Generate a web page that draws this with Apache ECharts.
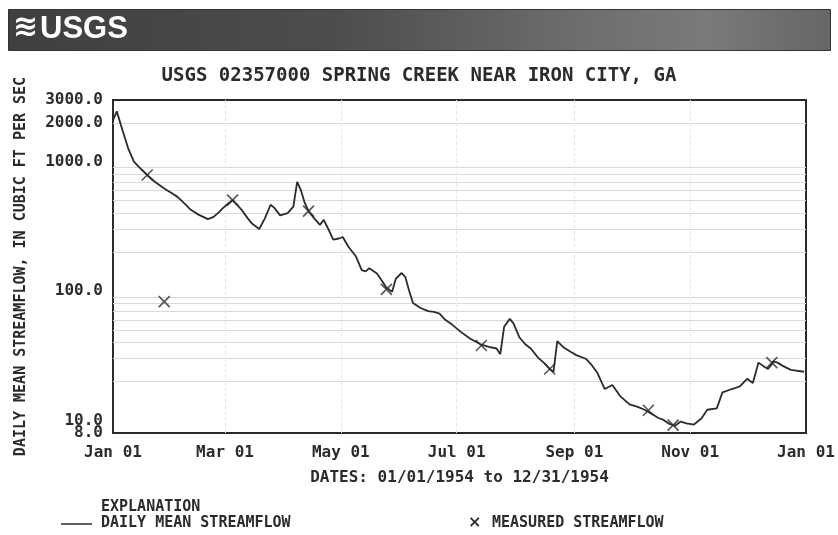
<!DOCTYPE html>
<html>
<head>
<meta charset="utf-8">
<script src="https://cdn.jsdelivr.net/npm/echarts@6/dist/echarts.min.js"></script>
<style>
html,body{margin:0;padding:0;background:#fff;}
#chart{width:838px;height:535px;}
</style>
</head>
<body>
<div id="chart"></div>
<script>
// ---- data (day of year 1954, 0 = Jan 01) ----
var flowDays = [0,2,3,5,8,11,14,18,22,27,31,34,38,41,45,50,53,56,58,61,63,65,68,71,73,77,80,83,85,88,92,95,97,99,101,103,106,109,111,114,116,119,121,124,128,131,133,135,139,142,144,147,149,152,154,156,158,162,166,169,172,175,178,183,188,194,198,202,204,206,209,211,214,217,220,224,228,230,232,234,237,241,244,249,252,255,259,263,267,272,276,280,284,287,290,293,296,299,302,306,310,313,318,321,326,330,334,337,340,343,345,348,350,353,357,364];
var flowValues = [2100,2450,2470,1750,1270,1000,900,790,700,620,570,535,470,425,390,360,375,410,440,480,505,470,420,365,335,302,365,465,440,385,400,450,700,600,480,415,365,325,355,290,250,255,262,220,185,145,142,150,137,118,106,99,125,138,128,100,81,74,70,69,67,60,56,48.6,43,38.5,37,36,32.5,53,61,56,44,39,36,30.5,27,25,23.8,41,37,34,32,30,27,23.5,17.5,18.8,15.5,13.3,12.8,12.1,11.2,10.5,10.1,9.4,9.1,9.8,9.5,9.3,10.4,12.1,12.4,16.5,17.5,18.3,21,19.5,28,26,25,28.5,28,26.3,24.6,23.8];
var measuredDays = [18,27,63,103,144,194,230,282,295,347];
var measuredValues = [790,83,505,415,103,38,25,12,9.2,28];
var monthTicks = [0,59,120,181,243,304,365];
var monthLabels = ['Jan 01','Mar 01','May 01','Jul 01','Sep 01','Nov 01','Jan 01'];
var yTicks = [10,100,1000,2000,3000];
var yMinTick = [8];
var gridValues = [20,30,40,50,60,70,80,90,200,300,400,500,600,700,800,900,2000];

var chart = echarts.init(document.getElementById('chart'));
var MONO = '"DejaVu Sans Mono", monospace';
var INK = '#2b2b2b';

var lineData = flowDays.map(function(d,i){return [d, flowValues[i]];});
var measData = measuredDays.map(function(d,i){return [d, measuredValues[i]];});
var hLines = gridValues.map(function(v){return {yAxis: v};});
var vLines = monthTicks.slice(1,-1).map(function(v){return {xAxis: v, lineStyle: {color: '#e8e8e8', type: 'dashed'}};});

function yLabelStyle(vals){
  return {
    customValues: vals, margin: 10, showMinLabel: true, showMaxLabel: true, hideOverlap: false,
    fontFamily: MONO, fontWeight: 'bold', fontSize: 16, color: INK,
    formatter: function(v){ return Number(v).toFixed(1); }
  };
}

chart.setOption({
  animation: false,
  backgroundColor: '#fff',
  title: {
    text: 'USGS 02357000 SPRING CREEK NEAR IRON CITY, GA',
    left: 'center', top: 62,
    textStyle: {fontFamily: MONO, fontWeight: 'bold', fontSize: 19, color: INK}
  },
  grid: {left: 113, top: 100, width: 693, height: 333, show: true, borderColor: INK, borderWidth: 2, backgroundColor: 'transparent'},
  xAxis: {
    type: 'value', min: 0, max: 365,
    name: 'DATES: 01/01/1954 to 12/31/1954',
    nameLocation: 'middle', nameGap: 37,
    nameTextStyle: {fontFamily: MONO, fontWeight: 'bold', fontSize: 16, color: INK},
    axisLine: {show: false},
    axisTick: {show: true, inside: true, length: 4, customValues: monthTicks, lineStyle: {color: INK}},
    splitLine: {show: false},
    axisLabel: {
      customValues: monthTicks, margin: 12, showMinLabel: true, showMaxLabel: true,
      fontFamily: MONO, fontWeight: 'bold', fontSize: 16, color: INK,
      formatter: function(v){ var i = monthTicks.indexOf(Math.round(v)); return i >= 0 ? monthLabels[i] : ''; }
    }
  },
  yAxis: [{
    type: 'log', logBase: 10, min: 8, max: 3000, position: 'left',
    name: 'DAILY MEAN STREAMFLOW, IN CUBIC FT PER SEC',
    nameLocation: 'middle', nameGap: 84, nameRotate: 90,
    nameTextStyle: {fontFamily: MONO, fontWeight: 'bold', fontSize: 15, color: INK},
    axisLine: {show: false}, axisTick: {show: false}, splitLine: {show: false},
    axisLabel: yLabelStyle(yTicks)
  }, {
    type: 'log', logBase: 10, min: 8, max: 3000, position: 'left', offset: 0,
    axisLine: {show: false}, axisTick: {show: false}, splitLine: {show: false},
    axisLabel: yLabelStyle(yMinTick)
  }],
  graphic: [
    {type: 'rect', left: 8, top: 9, shape: {width: 822, height: 41}, z: 0,
     style: {fill: new echarts.graphic.LinearGradient(0,0,1,0,[
       {offset:0,color:'#3f3f3f'},{offset:0.4,color:'#4d4d4d'},{offset:0.7,color:'#6e6e6e'},{offset:0.85,color:'#7a7a7a'},{offset:1,color:'#666'}]),
       stroke: '#333', lineWidth: 1}},
    {type: 'text', left: 13, top: 13, z: 1,
     style: {text: '\u224b', fill: '#fff', font: 'bold 30px "DejaVu Sans"'}},
    {type: 'text', left: 40, top: 14, z: 1,
     style: {text: 'USGS', fill: '#fff', font: 'bold 31px "Liberation Sans"'}},
    {type: 'text', left: 101, top: 500, style: {text: 'EXPLANATION', fill: INK, font: 'bold 15px "DejaVu Sans Mono"'}},
    {type: 'line', shape: {x1: 61, y1: 524, x2: 92, y2: 524}, style: {stroke: INK, lineWidth: 1.5}},
    {type: 'text', left: 101, top: 516, style: {text: 'DAILY MEAN STREAMFLOW', fill: INK, font: 'bold 15px "DejaVu Sans Mono"'}},
    {type: 'text', left: 468, top: 515, style: {text: '\u00d7', fill: INK, font: 'bold 16px "DejaVu Sans"'}},
    {type: 'text', left: 492, top: 516, style: {text: 'MEASURED STREAMFLOW', fill: INK, font: 'bold 15px "DejaVu Sans Mono"'}}
  ],
  series: [
    {
      type: 'line', data: lineData, showSymbol: false, symbol: 'none',
      lineStyle: {color: INK, width: 1.8}, z: 3, silent: true,
      markLine: {
        silent: true, symbol: 'none', label: {show: false},
        lineStyle: {color: '#d9d9d9', width: 1, type: 'solid'},
        data: hLines.concat(vLines), z: 1
      }
    },
    {
      type: 'scatter', data: measData,
      symbol: 'path://M0,0L10,10M10,0L0,10', symbolSize: 11,
      itemStyle: {color: 'none', borderColor: INK, borderWidth: 1.6}, z: 4
    }
  ]
});
</script>
</body>
</html>
